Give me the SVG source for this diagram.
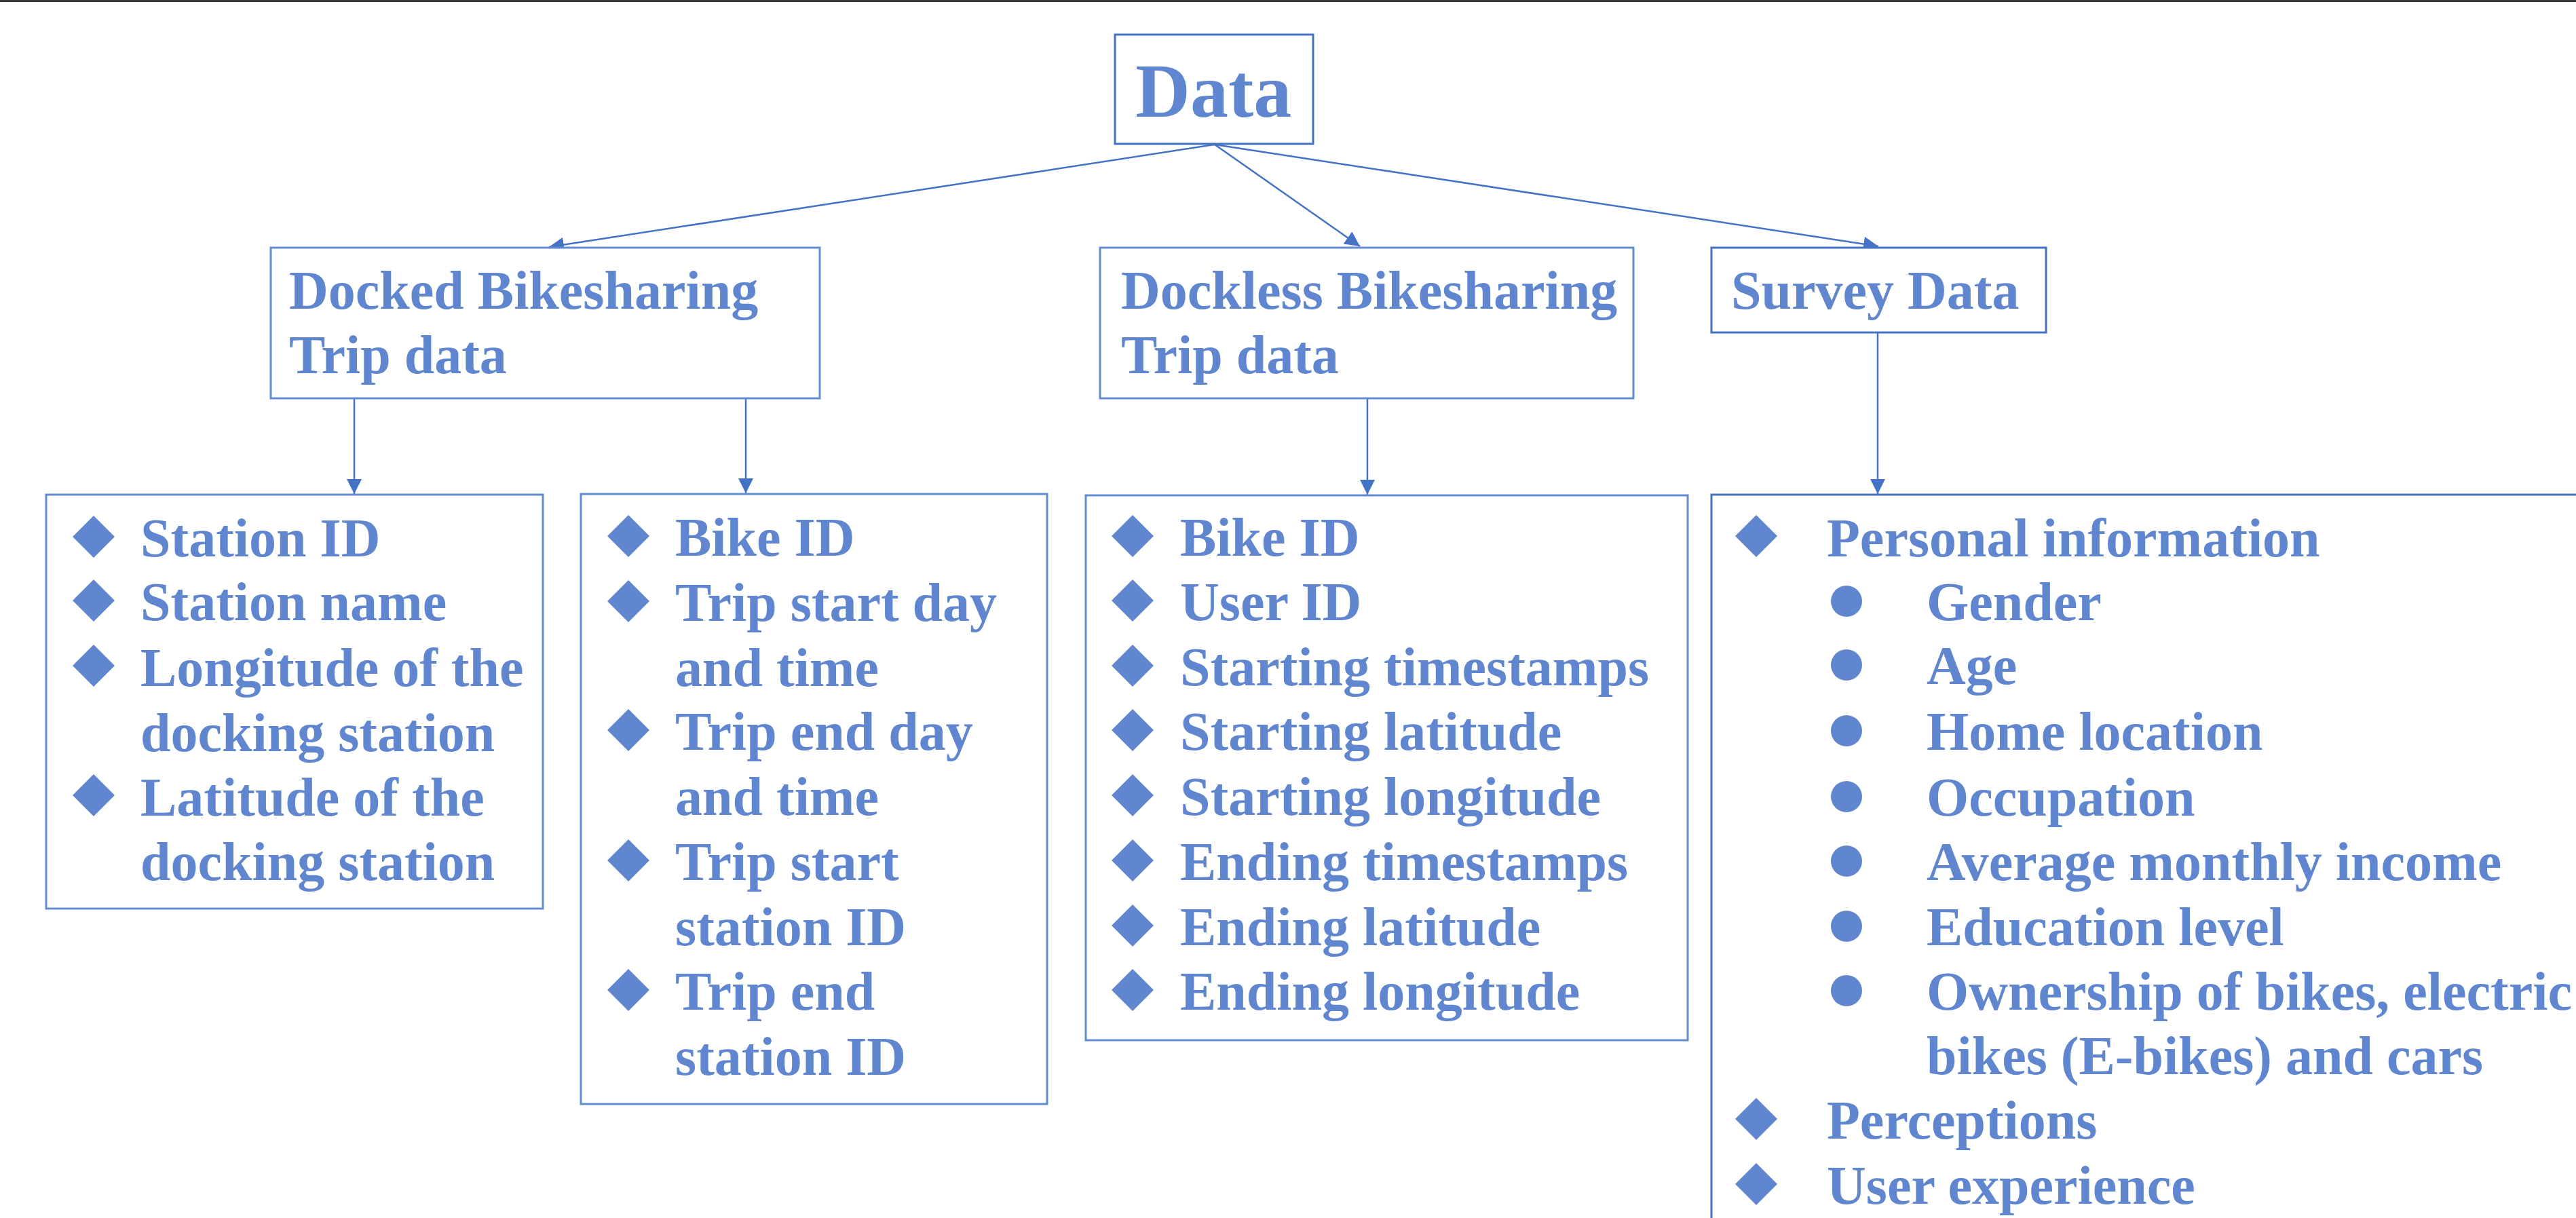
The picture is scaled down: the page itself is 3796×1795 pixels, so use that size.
<svg xmlns="http://www.w3.org/2000/svg" width="3796" height="1795" viewBox="0 0 3796 1795">
<style>
.box{fill:#fff;stroke:#4472C4;stroke-width:3}
.lbox{fill:#fff;stroke:#628BD2;stroke-width:3}
.t{font-family:"Liberation Serif","Times New Roman",serif;font-weight:bold;font-size:80px;fill:#5F86CE}
.big{font-size:112px}
.con{stroke:#4472C4;stroke-width:2.5;fill:none;marker-end:url(#ah)}
.dia{fill:#5F86CE}
</style>
<defs>
<marker id="ah" markerUnits="userSpaceOnUse" markerWidth="24" markerHeight="22" refX="22" refY="11" orient="auto">
<path d="M0,0 L22,11 L0,22 Z" fill="#4472C4"/>
</marker>
<path id="d" d="M0,-31 L31,0 L0,31 L-31,0 Z"/>
</defs>
<rect width="3796" height="1795" fill="#fff"/>
<line x1="0" y1="1.5" x2="3796" y2="1.5" stroke="#3a3a3a" stroke-width="3"/>

<g id="connectors">
<line class="con" x1="1790" y1="213" x2="809" y2="364"/>
<line class="con" x1="1790" y1="213" x2="2004" y2="363"/>
<line class="con" x1="1790" y1="213" x2="2768" y2="363"/>
<line class="con" x1="522" y1="587" x2="522" y2="728"/>
<line class="con" x1="1099" y1="587" x2="1099" y2="727"/>
<line class="con" x1="2015" y1="587" x2="2015" y2="729"/>
<line class="con" x1="2767" y1="490" x2="2767" y2="728"/>
</g>

<g id="data">
<rect class="box" x="1643" y="51" width="292" height="161" stroke-width="4"/>
<text class="t big" x="1673" y="172">Data</text>
</g>

<g id="docked">
<rect class="lbox" x="399" y="365" width="809" height="222"/>
<text class="t" x="426" y="455">Docked Bikesharing</text>
<text class="t" x="426" y="550">Trip data</text>
</g>

<g id="dockless">
<rect class="lbox" x="1621" y="365" width="786" height="222"/>
<text class="t" x="1652" y="455">Dockless Bikesharing</text>
<text class="t" x="1652" y="550">Trip data</text>
</g>

<g id="survey">
<rect class="box" x="2522" y="365" width="493" height="125"/>
<text class="t" x="2551" y="455">Survey Data</text>
</g>

<g id="docked-stations">
<rect class="lbox" x="68" y="729" width="732" height="610"/>
<use href="#d" class="dia" x="138" y="791"/>
<use href="#d" class="dia" x="138" y="885"/>
<use href="#d" class="dia" x="138" y="981"/>
<use href="#d" class="dia" x="138" y="1172"/>
<text class="t" x="207" y="820">Station ID</text>
<text class="t" x="207" y="914">Station name</text>
<text class="t" x="207" y="1011">Longitude of the</text>
<text class="t" x="207" y="1107">docking station</text>
<text class="t" x="207" y="1202">Latitude of the</text>
<text class="t" x="207" y="1297">docking station</text>
</g>

<g id="docked-trips">
<rect class="lbox" x="856" y="728" width="687" height="899"/>
<use href="#d" class="dia" x="926" y="790"/>
<use href="#d" class="dia" x="926" y="886"/>
<use href="#d" class="dia" x="926" y="1076"/>
<use href="#d" class="dia" x="926" y="1268"/>
<use href="#d" class="dia" x="926" y="1459"/>
<text class="t" x="995" y="819">Bike ID</text>
<text class="t" x="995" y="915">Trip start day</text>
<text class="t" x="995" y="1011">and time</text>
<text class="t" x="995" y="1105">Trip end day</text>
<text class="t" x="995" y="1201">and time</text>
<text class="t" x="995" y="1297">Trip start</text>
<text class="t" x="995" y="1393">station ID</text>
<text class="t" x="995" y="1488">Trip end</text>
<text class="t" x="995" y="1584">station ID</text>
</g>

<g id="dockless-trips">
<rect class="lbox" x="1600" y="730" width="887" height="803"/>
<use href="#d" class="dia" x="1669" y="790"/>
<use href="#d" class="dia" x="1669" y="885"/>
<use href="#d" class="dia" x="1669" y="981"/>
<use href="#d" class="dia" x="1669" y="1076"/>
<use href="#d" class="dia" x="1669" y="1172"/>
<use href="#d" class="dia" x="1669" y="1268"/>
<use href="#d" class="dia" x="1669" y="1364"/>
<use href="#d" class="dia" x="1669" y="1459"/>
<text class="t" x="1739" y="819">Bike ID</text>
<text class="t" x="1739" y="914">User ID</text>
<text class="t" x="1739" y="1010">Starting timestamps</text>
<text class="t" x="1739" y="1105">Starting latitude</text>
<text class="t" x="1739" y="1201">Starting longitude</text>
<text class="t" x="1739" y="1297">Ending timestamps</text>
<text class="t" x="1739" y="1393">Ending latitude</text>
<text class="t" x="1739" y="1488">Ending longitude</text>
</g>

<g id="survey-items">
<rect class="box" x="2522" y="729" width="1400" height="1200"/>
<use href="#d" class="dia" x="2588" y="790"/>
<use href="#d" class="dia" x="2588" y="1649"/>
<use href="#d" class="dia" x="2588" y="1745"/>
<circle class="dia" cx="2721" cy="886" r="23"/>
<circle class="dia" cx="2721" cy="980" r="23"/>
<circle class="dia" cx="2721" cy="1077" r="23"/>
<circle class="dia" cx="2721" cy="1174" r="23"/>
<circle class="dia" cx="2721" cy="1269" r="23"/>
<circle class="dia" cx="2721" cy="1365" r="23"/>
<circle class="dia" cx="2721" cy="1460" r="23"/>
<text class="t" x="2692" y="820">Personal information</text>
<text class="t" x="2839" y="914">Gender</text>
<text class="t" x="2839" y="1008">Age</text>
<text class="t" x="2839" y="1105">Home location</text>
<text class="t" x="2839" y="1202">Occupation</text>
<text class="t" x="2839" y="1297">Average monthly income</text>
<text class="t" x="2839" y="1393">Education level</text>
<text class="t" x="2839" y="1488">Ownership of bikes, electric</text>
<text class="t" x="2839" y="1583">bikes (E-bikes) and cars</text>
<text class="t" x="2692" y="1678">Perceptions</text>
<text class="t" x="2692" y="1774">User experience</text>
</g>
</svg>
